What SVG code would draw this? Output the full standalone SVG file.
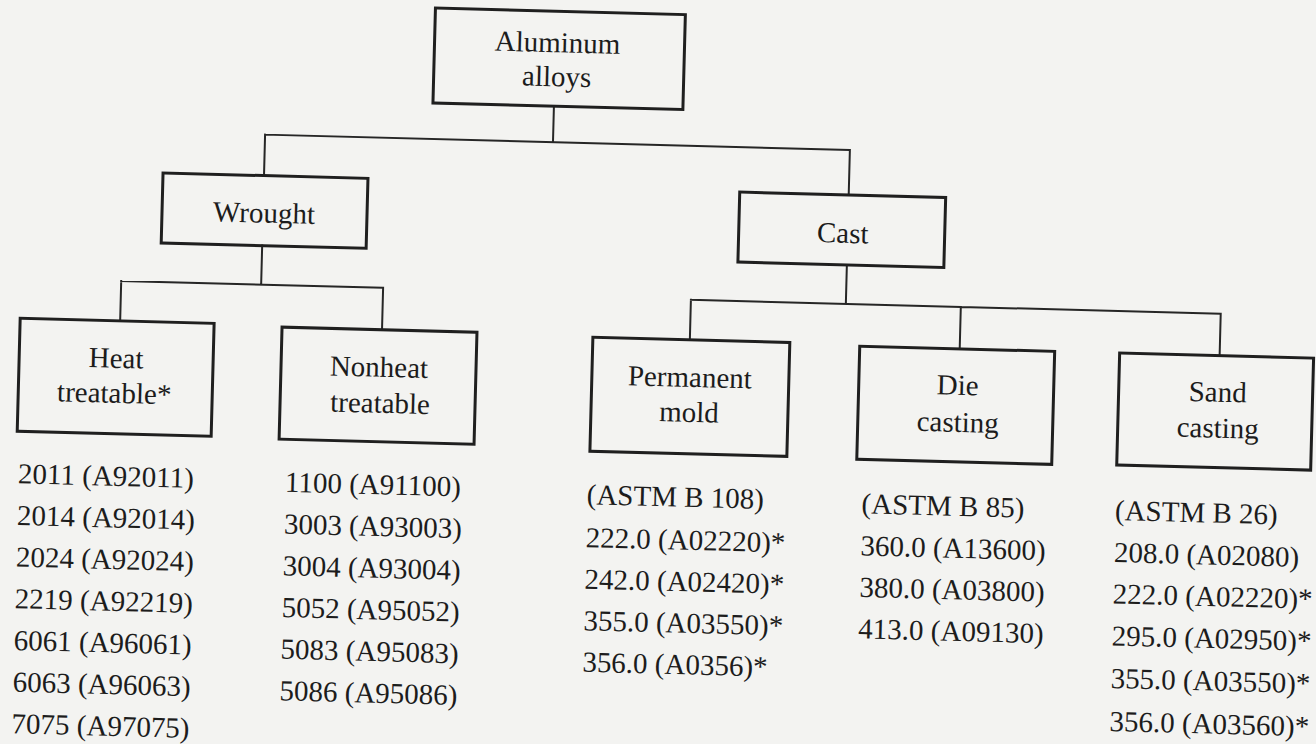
<svg xmlns="http://www.w3.org/2000/svg" width="1316" height="744" viewBox="0 0 1316 744">
<style>
text{font-family:'Liberation Serif','Tinos','DejaVu Serif','Noto Serif',serif}
.box{fill:none;stroke:#1f1f1f;stroke-width:3}
.con{fill:none;stroke:#262626;stroke-width:2;stroke-linecap:square}
.lbl{font-size:29px;fill:#1c1c1c;text-anchor:middle}
.lst{font-size:29px;fill:#1c1c1c}
</style>
<rect x="0" y="0" width="1316" height="744" fill="#f3f3f1"/>
<g transform="rotate(1.5 658 372)">
<g id="connectors">
<path class="con" d="M547 109 V145 M259 145 H844 M259 145 V186 M844 145 V190"/>
<path class="con" d="M259 256 V295 M119 295 H381 M119 295 V335 M381 295 V337"/>
<path class="con" d="M844 260 V299 M689 299 H1219 M689 299 V339 M959 299 V341 M1219 299 V341"/>
</g>
<g id="aluminum-alloys">
<rect class="box" x="426" y="14" width="250" height="95"/>
<text class="lbl" x="549" y="55">Aluminum</text>
<text class="lbl" x="549" y="89">alloys</text>
</g>
<g id="wrought">
<rect class="box" x="158" y="186" width="205" height="70"/>
<text class="lbl" x="260" y="233">Wrought</text>
</g>
<g id="cast">
<rect class="box" x="735" y="190" width="206" height="70"/>
<text class="lbl" x="839" y="238">Cast</text>
</g>
<g id="heat-treatable">
<rect class="box" x="19" y="335" width="194" height="113"/>
<text class="lbl" x="116" y="382">Heat</text>
<text class="lbl" x="115" y="417">treatable*</text>
</g>
<g id="nonheat-treatable">
<rect class="box" x="281" y="337" width="195" height="112"/>
<text class="lbl" x="379" y="384">Nonheat</text>
<text class="lbl" x="381" y="420">treatable</text>
</g>
<g id="permanent-mold">
<rect class="box" x="592" y="339" width="197" height="114"/>
<text class="lbl" x="690" y="386">Permanent</text>
<text class="lbl" x="690" y="421">mold</text>
</g>
<g id="die-casting">
<rect class="box" x="859" y="341" width="195" height="113"/>
<text class="lbl" x="958" y="387">Die</text>
<text class="lbl" x="959" y="424">casting</text>
</g>
<g id="sand-casting">
<rect class="box" x="1119" y="341" width="194" height="112"/>
<text class="lbl" x="1218" y="387">Sand</text>
<text class="lbl" x="1219" y="423">casting</text>
</g>
<g id="list-heat-treatable" class="lst">
<text x="21" y="500">2011 (A92011)</text>
<text x="21" y="541.7">2014 (A92014)</text>
<text x="21" y="583.3">2024 (A92024)</text>
<text x="21" y="625">2219 (A92219)</text>
<text x="21" y="666.7">6061 (A96061)</text>
<text x="21" y="708.3">6063 (A96063)</text>
<text x="21" y="750">7075 (A97075)</text>
</g>
<g id="list-nonheat-treatable" class="lst">
<text x="288" y="501.6">1100 (A91100)</text>
<text x="288" y="543.3">3003 (A93003)</text>
<text x="288" y="585">3004 (A93004)</text>
<text x="288" y="626.7">5052 (A95052)</text>
<text x="288" y="668.4">5083 (A95083)</text>
<text x="288" y="710">5086 (A95086)</text>
</g>
<g id="list-permanent-mold" class="lst">
<text x="590" y="506">(ASTM B 108)</text>
<text x="590" y="549">222.0 (A02220)*</text>
<text x="590" y="590.5">242.0 (A02420)*</text>
<text x="590" y="632">355.0 (A03550)*</text>
<text x="590" y="673.5">356.0 (A0356)*</text>
</g>
<g id="list-die-casting" class="lst">
<text x="865" y="508">(ASTM B 85)</text>
<text x="865" y="550">360.0 (A13600)</text>
<text x="865" y="591.5">380.0 (A03800)</text>
<text x="865" y="633">413.0 (A09130)</text>
</g>
<g id="list-sand-casting" class="lst">
<text x="1118.5" y="508">(ASTM B 26)</text>
<text x="1118.5" y="550">208.0 (A02080)</text>
<text x="1118.5" y="591.5">222.0 (A02220)*</text>
<text x="1118.5" y="633.5">295.0 (A02950)*</text>
<text x="1118.5" y="676">355.0 (A03550)*</text>
<text x="1118.5" y="719">356.0 (A03560)*</text>
</g>
</g>
</svg>
